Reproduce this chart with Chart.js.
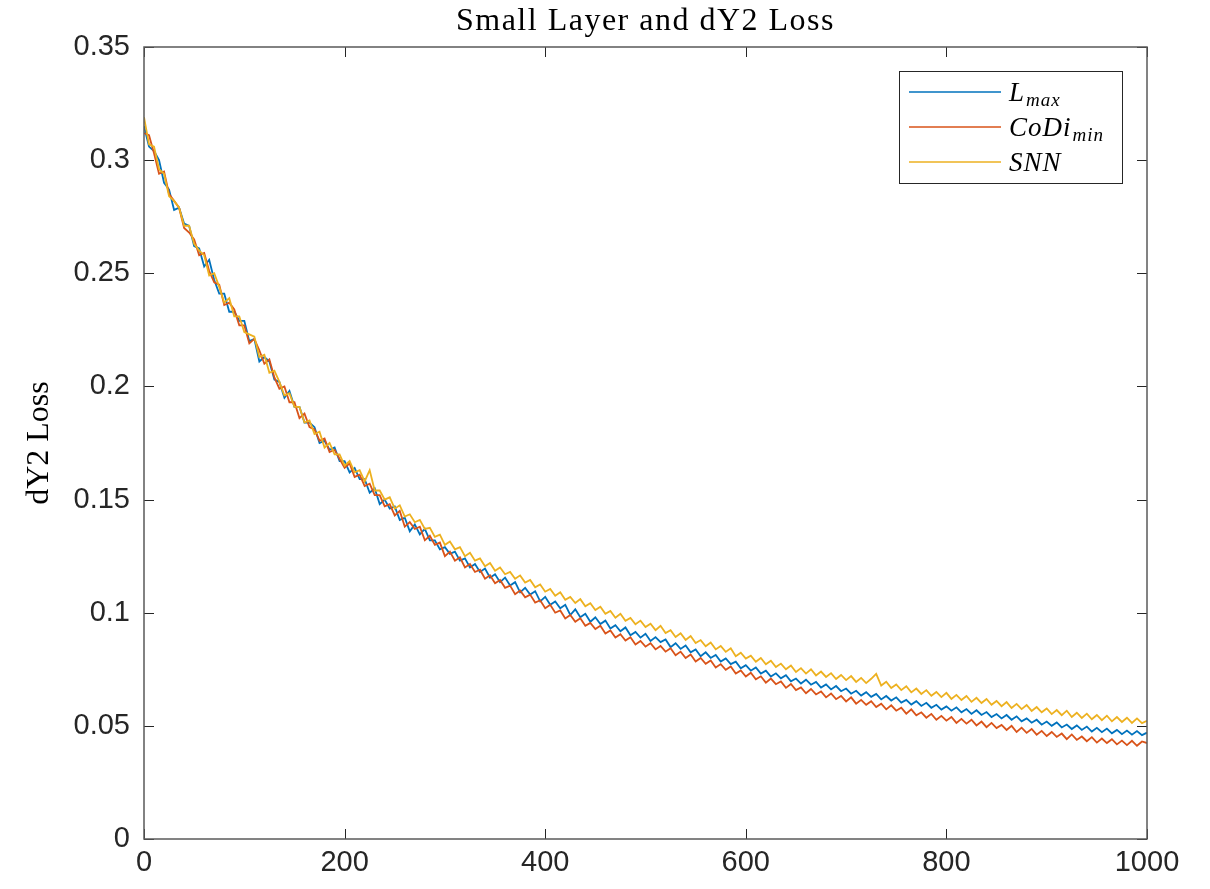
<!DOCTYPE html>
<html>
<head>
<meta charset="utf-8">
<title>Small Layer and dY2 Loss</title>
<script src="https://cdn.jsdelivr.net/npm/chart.js@4/dist/chart.umd.min.js"></script>
<style>
  body { margin: 0; background: #fff; }
  canvas { display: block; }
</style>
</head>
<body>
<canvas id="lossChart" width="1210" height="889"></canvas>
<script>
const iterations = [
  0, 5, 10, 15, 20, 25, 30, 35, 40, 45, 50, 55, 60, 65, 70, 75, 80, 85, 90, 95,
  100, 105, 110, 115, 120, 125, 130, 135, 140, 145, 150, 155, 160, 165, 170, 175, 180, 185, 190, 195,
  200, 205, 210, 215, 220, 225, 230, 235, 240, 245, 250, 255, 260, 265, 270, 275, 280, 285, 290, 295,
  300, 305, 310, 315, 320, 325, 330, 335, 340, 345, 350, 355, 360, 365, 370, 375, 380, 385, 390, 395,
  400, 405, 410, 415, 420, 425, 430, 435, 440, 445, 450, 455, 460, 465, 470, 475, 480, 485, 490, 495,
  500, 505, 510, 515, 520, 525, 530, 535, 540, 545, 550, 555, 560, 565, 570, 575, 580, 585, 590, 595,
  600, 605, 610, 615, 620, 625, 630, 635, 640, 645, 650, 655, 660, 665, 670, 675, 680, 685, 690, 695,
  700, 705, 710, 715, 720, 725, 730, 735, 740, 745, 750, 755, 760, 765, 770, 775, 780, 785, 790, 795,
  800, 805, 810, 815, 820, 825, 830, 835, 840, 845, 850, 855, 860, 865, 870, 875, 880, 885, 890, 895,
  900, 905, 910, 915, 920, 925, 930, 935, 940, 945, 950, 955, 960, 965, 970, 975, 980, 985, 990, 995,
  1000
];

const lMax = [
  0.315, 0.306, 0.304, 0.300, 0.290, 0.287, 0.278, 0.279, 0.272, 0.271,
  0.262, 0.261, 0.253, 0.256, 0.247, 0.241, 0.241, 0.233, 0.233, 0.229,
  0.229, 0.220, 0.221, 0.211, 0.213, 0.211, 0.203, 0.202, 0.195, 0.198,
  0.191, 0.191, 0.184, 0.184, 0.182, 0.175, 0.176, 0.172, 0.173, 0.167,
  0.167, 0.162, 0.164, 0.159, 0.159, 0.153, 0.155, 0.148, 0.150, 0.146,
  0.147, 0.141, 0.142, 0.136, 0.139, 0.1346, 0.137, 0.132, 0.132, 0.128,
  0.129, 0.126, 0.127, 0.123, 0.124, 0.120, 0.1215, 0.118, 0.1195, 0.1155,
  0.117, 0.1135, 0.1155, 0.112, 0.1135, 0.109, 0.111, 0.108, 0.1095, 0.105,
  0.107, 0.1035, 0.105, 0.102, 0.1035, 0.099, 0.1015, 0.098, 0.0995, 0.096,
  0.098, 0.095, 0.0965, 0.093, 0.0945, 0.0918, 0.0935, 0.090, 0.0915, 0.089,
  0.0907, 0.0875, 0.0892, 0.087, 0.0882, 0.0848, 0.0865, 0.084, 0.0855, 0.0825,
  0.0838, 0.0808, 0.0825, 0.080, 0.0813, 0.0784, 0.0798, 0.0773, 0.0784, 0.0754,
  0.0768, 0.0744, 0.0758, 0.0731, 0.0744, 0.0718, 0.0732, 0.071, 0.0724, 0.0697,
  0.0709, 0.0687, 0.0704, 0.0682, 0.0694, 0.0669, 0.0683, 0.0661, 0.0676, 0.0653,
  0.0665, 0.0642, 0.0655, 0.0634, 0.0649, 0.0628, 0.0641, 0.0617, 0.0632, 0.0612,
  0.0626, 0.0603, 0.0615, 0.0594, 0.0609, 0.0588, 0.0602, 0.058, 0.0593, 0.0572,
  0.0586, 0.0567, 0.0582, 0.056, 0.0574, 0.0553, 0.0569, 0.0548, 0.0561, 0.0539,
  0.0552, 0.0533, 0.0548, 0.0527, 0.0542, 0.052, 0.0533, 0.0514, 0.0527, 0.0505,
  0.0519, 0.05, 0.0515, 0.0493, 0.0506, 0.0486, 0.0502, 0.0482, 0.0497, 0.0475,
  0.0491, 0.0472, 0.0488, 0.0467, 0.0482, 0.0463, 0.0479, 0.0461, 0.0477, 0.0459,
  0.047
];

const coDiMin = [
  0.312, 0.311, 0.303, 0.294, 0.295, 0.285, 0.282, 0.279, 0.270, 0.268,
  0.265, 0.258, 0.259, 0.251, 0.246, 0.245, 0.236, 0.237, 0.234, 0.227,
  0.227, 0.219, 0.221, 0.216, 0.210, 0.212, 0.204, 0.199, 0.200, 0.193,
  0.193, 0.186, 0.188, 0.182, 0.181, 0.176, 0.177, 0.171, 0.172, 0.168,
  0.164, 0.166, 0.160, 0.161, 0.156, 0.157, 0.152, 0.152, 0.147, 0.148,
  0.143, 0.145, 0.138, 0.140, 0.137, 0.138, 0.132, 0.134, 0.130, 0.131,
  0.125, 0.127, 0.123, 0.1245, 0.120, 0.1215, 0.118, 0.119, 0.115, 0.1165,
  0.113, 0.1145, 0.111, 0.112, 0.1082, 0.1098, 0.1068, 0.108, 0.1045, 0.1055,
  0.102, 0.1035, 0.100, 0.101, 0.0975, 0.099, 0.096, 0.0975, 0.0942, 0.0955,
  0.0928, 0.0942, 0.0908, 0.0922, 0.089, 0.0905, 0.0877, 0.0892, 0.086, 0.0875,
  0.085, 0.0865, 0.0838, 0.0853, 0.0828, 0.0843, 0.0812, 0.0828, 0.080, 0.0815,
  0.0784, 0.080, 0.0774, 0.0789, 0.0758, 0.0773, 0.0748, 0.0762, 0.0731, 0.0745,
  0.0718, 0.0735, 0.0706, 0.0719, 0.0691, 0.0709, 0.0684, 0.0696, 0.0668, 0.0685,
  0.0658, 0.067, 0.0644, 0.0663, 0.0639, 0.0652, 0.0626, 0.0643, 0.0618, 0.0632,
  0.0608, 0.0626, 0.0598, 0.0615, 0.0593, 0.0609, 0.0583, 0.0598, 0.0573, 0.0591,
  0.0567, 0.058, 0.0554, 0.0573, 0.0547, 0.056, 0.0536, 0.0553, 0.0527, 0.0544,
  0.0523, 0.0539, 0.0513, 0.0531, 0.051, 0.0527, 0.0502, 0.0519, 0.0494, 0.0513,
  0.049, 0.0504, 0.0482, 0.05, 0.0473, 0.0492, 0.0469, 0.0486, 0.0461, 0.0478,
  0.0455, 0.0473, 0.0451, 0.0466, 0.0441, 0.0462, 0.0438, 0.0453, 0.0432, 0.045,
  0.0426, 0.0444, 0.0424, 0.0441, 0.0418, 0.0435, 0.0415, 0.0434, 0.0412, 0.0431,
  0.0424
];

const snn = [
  0.319, 0.307, 0.306, 0.296, 0.294, 0.284, 0.282, 0.279, 0.271, 0.271,
  0.263, 0.260, 0.258, 0.249, 0.250, 0.244, 0.237, 0.239, 0.231, 0.231,
  0.224, 0.223, 0.222, 0.213, 0.214, 0.206, 0.207, 0.202, 0.196, 0.197,
  0.191, 0.191, 0.184, 0.185, 0.179, 0.180, 0.173, 0.175, 0.170, 0.170,
  0.165, 0.167, 0.162, 0.163, 0.158, 0.163, 0.154, 0.154, 0.150, 0.151,
  0.146, 0.1475, 0.1425, 0.1435, 0.140, 0.141, 0.137, 0.1375, 0.1335, 0.1345,
  0.130, 0.1315, 0.128, 0.129, 0.125, 0.1265, 0.123, 0.124, 0.1205, 0.122,
  0.1185, 0.120, 0.117, 0.118, 0.115, 0.1165, 0.1133, 0.1145, 0.1112, 0.1125,
  0.1093, 0.1105, 0.1075, 0.109, 0.1057, 0.107, 0.1043, 0.106, 0.1028, 0.1042,
  0.1012, 0.1026, 0.0995, 0.1008, 0.0978, 0.0995, 0.0964, 0.0977, 0.0949, 0.0965,
  0.0937, 0.0951, 0.0923, 0.0942, 0.091, 0.0923, 0.0893, 0.0909, 0.088, 0.0897,
  0.0866, 0.0879, 0.0852, 0.0868, 0.0838, 0.0853, 0.0827, 0.0843, 0.0808, 0.0823,
  0.0797, 0.081, 0.0783, 0.08, 0.0772, 0.0788, 0.076, 0.0775, 0.075, 0.0767,
  0.0738, 0.0755, 0.0731, 0.075, 0.0723, 0.074, 0.0716, 0.0733, 0.0707, 0.0725,
  0.0702, 0.072, 0.0694, 0.0712, 0.0689, 0.0708, 0.073, 0.0678, 0.0695, 0.0667,
  0.0683, 0.0658, 0.0675, 0.0648, 0.0665, 0.0641, 0.0658, 0.0633, 0.065, 0.0627,
  0.0646, 0.0619, 0.0637, 0.0614, 0.0632, 0.0606, 0.0624, 0.0601, 0.0619, 0.0593,
  0.061, 0.0587, 0.0605, 0.0579, 0.0597, 0.0574, 0.0592, 0.0566, 0.0583, 0.056,
  0.0577, 0.0552, 0.057, 0.0547, 0.0567, 0.0539, 0.0558, 0.0535, 0.0554, 0.0529,
  0.0548, 0.0525, 0.0545, 0.052, 0.0539, 0.0517, 0.0536, 0.0513, 0.0533, 0.0512,
  0.0522
];

const seriesNames = ["L_max", "CoDi_min", "SNN"];
const seriesColors = ["#0072BD", "#D95319", "#EDB120"];
const xTickValues = [0, 200, 400, 600, 800, 1000];
const xTickLabels = ["0", "200", "400", "600", "800", "1000"];
const yTickValues = [0, 0.05, 0.1, 0.15, 0.2, 0.25, 0.3, 0.35];
const yTickLabels = ["0", "0.05", "0.1", "0.15", "0.2", "0.25", "0.3", "0.35"];
const chartTitle = "Small Layer and dY2 Loss";
const yAxisTitle = "dY2 Loss";

const axisColor = "#262626";

function toPoints(values) {
  return iterations.map((x, i) => ({ x: x, y: values[i] }));
}

// MATLAB-style box with inward ticks on all four sides
const boxPlugin = {
  id: "matlabBox",
  afterDraw(chart) {
    const { ctx, chartArea } = chart;
    const { left, right, top, bottom } = chartArea;
    const xs = chart.scales.x;
    const ys = chart.scales.y;
    const tl = 10;
    ctx.save();
    ctx.strokeStyle = axisColor;
    ctx.lineWidth = 1;
    ctx.beginPath();
    xTickValues.forEach((v) => {
      const px = Math.round(xs.getPixelForValue(v)) + 0.5;
      ctx.moveTo(px, bottom); ctx.lineTo(px, bottom - tl);
      ctx.moveTo(px, top); ctx.lineTo(px, top + tl);
    });
    yTickValues.forEach((v) => {
      const py = Math.round(ys.getPixelForValue(v)) + 0.5;
      ctx.moveTo(left, py); ctx.lineTo(left + tl, py);
      ctx.moveTo(right, py); ctx.lineTo(right - tl, py);
    });
    ctx.stroke();
    ctx.strokeStyle = "#5a5a5a";
    ctx.lineWidth = 1.5;
    ctx.strokeRect(left, top, right - left, bottom - top);

    // title, centred over the axes
    ctx.fillStyle = "#000";
    ctx.font = "32px 'Liberation Serif', serif";
    ctx.letterSpacing = "1.5px";
    ctx.textAlign = "center";
    ctx.textBaseline = "middle";
    ctx.fillText(chartTitle, (left + right) / 2, 22);
    ctx.restore();
  },
};

// legend with italic math-style labels and subscripts
const legendPlugin = {
  id: "mathLegend",
  afterDraw(chart) {
    const { ctx, chartArea } = chart;
    const bx = chartArea.right - 248;
    const by = chartArea.top + 24;
    const bw = 223;
    const bh = 112;
    ctx.save();
    ctx.fillStyle = "#fff";
    ctx.fillRect(bx, by, bw, bh);
    ctx.strokeStyle = axisColor;
    ctx.lineWidth = 1;
    ctx.strokeRect(bx + 0.5, by + 0.5, bw, bh);
    chart.data.datasets.forEach((ds, i) => {
      const ly = by + 21 + i * 35;
      ctx.strokeStyle = ds.borderColor;
      ctx.lineWidth = 1.5;
      ctx.beginPath();
      ctx.moveTo(bx + 10, ly);
      ctx.lineTo(bx + 102, ly);
      ctx.stroke();
      const parts = ds.label.split("_");
      ctx.fillStyle = "#000";
      ctx.textAlign = "left";
      ctx.textBaseline = "alphabetic";
      ctx.font = "italic 27px 'Liberation Serif', serif";
      ctx.letterSpacing = "1px";
      const tx = bx + 110;
      ctx.fillText(parts[0], tx, ly + 9);
      if (parts[1]) {
        const w = ctx.measureText(parts[0]).width;
        ctx.font = "italic 19px 'Liberation Serif', serif";
        ctx.fillText(parts[1], tx + w + 1, ly + 14);
      }
    });
    ctx.restore();
  },
};

const ctx = document.getElementById("lossChart");

const lossChart = new Chart(ctx, {
  type: "line",
  data: {
    datasets: [
      { label: seriesNames[0], data: toPoints(lMax), borderColor: seriesColors[0], order: 3 },
      { label: seriesNames[1], data: toPoints(coDiMin), borderColor: seriesColors[1], order: 2 },
      { label: seriesNames[2], data: toPoints(snn), borderColor: seriesColors[2], order: 1 },
    ],
  },
  options: {
    responsive: false,
    devicePixelRatio: 1,
    animation: false,
    layout: { padding: { top: 47, right: 63, left: 0, bottom: 0 } },
    elements: {
      point: { radius: 0 },
      line: { borderWidth: 1.8, tension: 0 },
    },
    plugins: {
      legend: { display: false },
      title: { display: false },
      tooltip: { enabled: false },
    },
    scales: {
      x: {
        type: "linear",
        min: 0,
        max: 1000,
        grid: { display: false, drawTicks: false },
        border: { display: false },
        afterBuildTicks: (scale) => {
          scale.ticks = xTickValues.map((v) => ({ value: v }));
        },
        afterFit: (scale) => { scale.height = 50; },
        ticks: {
          padding: 7,
          color: axisColor,
          font: { family: "'Liberation Sans', Arial, sans-serif", size: 29 },
          maxRotation: 0,
          callback: (value, index) => xTickLabels[index],
        },
      },
      y: {
        type: "linear",
        min: 0,
        max: 0.35,
        grid: { display: false, drawTicks: false },
        border: { display: false },
        afterBuildTicks: (scale) => {
          scale.ticks = yTickValues.map((v) => ({ value: v }));
        },
        afterFit: (scale) => { scale.width = 144; },
        ticks: {
          padding: 14,
          color: axisColor,
          font: { family: "'Liberation Sans', Arial, sans-serif", size: 29 },
          callback: (value, index) => yTickLabels[index],
        },
        title: {
          display: true,
          text: yAxisTitle,
          color: "#000",
          font: { family: "'Liberation Serif', serif", size: 32 },
          padding: { top: 20 },
        },
      },
    },
  },
  plugins: [boxPlugin, legendPlugin],
});
</script>
</body>
</html>
